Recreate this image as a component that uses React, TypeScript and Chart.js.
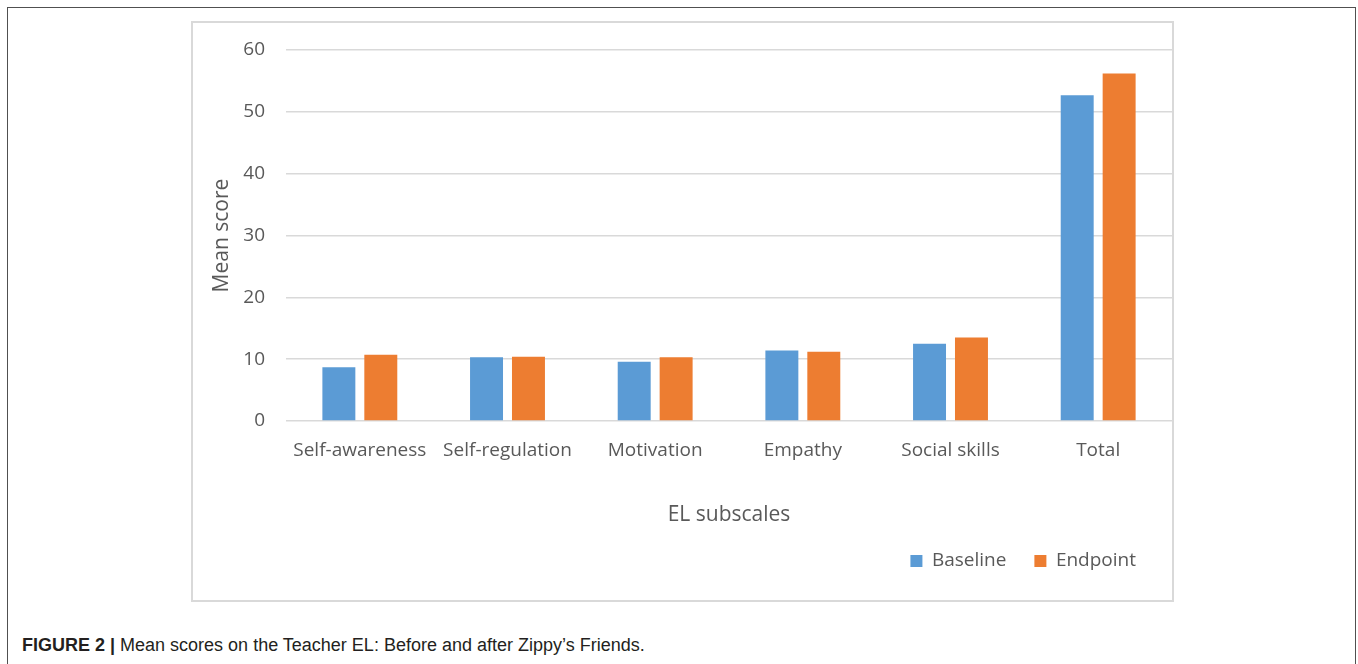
import React, { useEffect, useRef } from "react";
import { Chart, registerables } from "chart.js";

Chart.register(...registerables);

const categories = ["Self-awareness", "Self-regulation", "Motivation", "Empathy", "Social skills", "Total"];
const baseline = [8.7, 10.3, 9.6, 11.4, 12.5, 52.7];
const endpoint = [10.7, 10.4, 10.3, 11.2, 13.5, 56.2];
const seriesNames = ["Baseline", "Endpoint"];
const yTicks = [0, 10, 20, 30, 40, 50, 60];

const FONT = "'Open Sans', 'Noto Sans', sans-serif";
const GRAY = "#595959";

const legendPlacer = {
  id: "legendPlacer",
  afterLayout(chart: any) {
    const lg = chart.legend;
    if (!lg) return;
    const pad = lg.options.labels.padding;
    const h = lg.height;
    lg.top = 538 - 9.5 - pad;
    lg.bottom = lg.top + h;
    lg.right = 943 + pad;
  },
};

export default function App() {
  const ref = useRef<HTMLCanvasElement | null>(null);

  useEffect(() => {
    if (!ref.current) return;
    const chart = new Chart(ref.current, {
      type: "bar",
      data: {
        labels: categories,
        datasets: [
          {
            label: seriesNames[0],
            data: baseline,
            backgroundColor: "#5B9BD5",
            barPercentage: 0.786,
            categoryPercentage: 0.568,
          },
          {
            label: seriesNames[1],
            data: endpoint,
            backgroundColor: "#ED7D31",
            barPercentage: 0.786,
            categoryPercentage: 0.568,
          },
        ],
      },
      plugins: [legendPlacer],
      options: {
        animation: false,
        responsive: false,
        maintainAspectRatio: false,
        layout: { padding: { top: 27, left: 0, right: 0, bottom: 0 } },
        plugins: {
          tooltip: { enabled: false },
          legend: {
            display: true,
            position: "bottom",
            align: "end",
            labels: {
              boxWidth: 12,
              boxHeight: 12,
              padding: 28,
              color: GRAY,
              font: { family: FONT, size: 19 },
            },
          },
        },
        scales: {
          x: {
            grid: { display: false, drawTicks: false },
            border: { display: false },
            ticks: { color: GRAY, font: { family: FONT, size: 19 }, padding: 18, maxRotation: 0, autoSkip: false },
            title: {
              display: true,
              text: "EL subscales",
              color: GRAY,
              font: { family: FONT, size: 21 },
              padding: { top: 0, bottom: 15 },
            },
            afterFit: (s: any) => {
              s.height = 122;
            },
          },
          y: {
            min: 0,
            max: 60,
            afterBuildTicks: (s: any) => {
              s.ticks = yTicks.map((v) => ({ value: v }));
            },
            grid: { color: "#D9D9D9", lineWidth: 1.5, drawTicks: true, tickLength: 21, tickColor: "rgba(0,0,0,0)" },
            border: { display: false },
            ticks: { color: GRAY, font: { family: FONT, size: 19 }, padding: 0 },
            title: {
              display: true,
              text: "Mean score",
              color: GRAY,
              font: { family: FONT, size: 21 },
              padding: { top: 16, bottom: 0 },
            },
            afterFit: (s: any) => {
              s.width = 93;
            },
          },
        },
      },
    });
    return () => chart.destroy();
  }, []);

  return (
    <div>
      <div
        style={{
          position: "absolute",
          left: 7,
          top: 7,
          width: 1349,
          height: 680,
          border: "1px solid #505050",
          boxSizing: "border-box",
        }}
      />
      <div
        style={{
          position: "absolute",
          left: 191,
          top: 21,
          width: 983,
          height: 581,
          border: "2px solid #D9D9D9",
          boxSizing: "border-box",
        }}
      />
      <canvas
        ref={ref}
        width={979}
        height={577}
        style={{ position: "absolute", left: 193, top: 23, width: 979, height: 577 }}
      />
      <div
        style={{
          position: "absolute",
          left: 22,
          top: 634,
          fontFamily: "'Liberation Sans', Arial, sans-serif",
          fontSize: 18,
          color: "#231F20",
          whiteSpace: "nowrap",
          lineHeight: "22px",
        }}
      >
        <b>FIGURE 2 |</b> Mean scores on the Teacher EL: Before and after Zippy’s Friends.
      </div>
    </div>
  );
}
